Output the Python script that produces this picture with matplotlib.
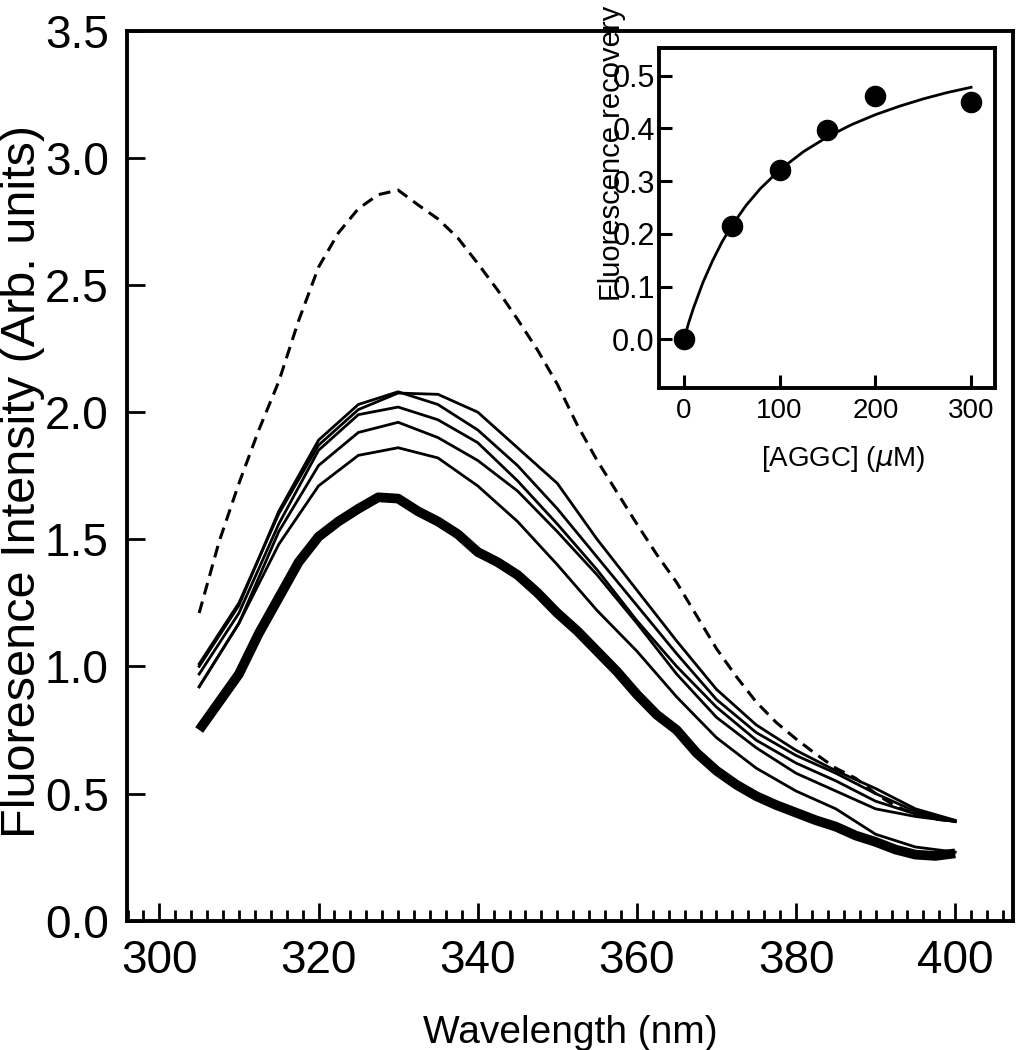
import matplotlib
matplotlib.use("Agg")
import matplotlib.pyplot as plt
from matplotlib.ticker import MultipleLocator, FormatStrFormatter

plt.rcParams['font.family'] = ['Liberation Sans', 'DejaVu Sans']

# main panel: emission spectra
wl_fine = [305, 307.5, 310, 312.5, 315, 317.5, 320, 322.5, 325, 327.5, 330, 332.5,
           335, 337.5, 340, 342.5, 345, 347.5, 350, 352.5, 355, 357.5, 360, 362.5,
           365, 367.5, 370, 372.5, 375, 377.5, 380, 382.5, 385, 387.5, 390, 392.5,
           395, 397.5, 400]
free_protein = [1.21, 1.49, 1.72, 1.93, 2.12, 2.36, 2.57, 2.705, 2.80, 2.855, 2.873, 2.815,
                2.76, 2.685, 2.585, 2.48, 2.365, 2.245, 2.11, 1.95, 1.81, 1.685, 1.56, 1.44,
                1.33, 1.20, 1.07, 0.96, 0.86, 0.78, 0.715, 0.655, 0.60, 0.56, 0.50, 0.45,
                0.42, 0.40, 0.39]
quenched = [0.75, 0.86, 0.97, 1.13, 1.27, 1.41, 1.51, 1.57, 1.62, 1.665, 1.66, 1.61,
            1.57, 1.52, 1.45, 1.41, 1.36, 1.29, 1.21, 1.14, 1.06, 0.98, 0.89, 0.81,
            0.75, 0.66, 0.59, 0.535, 0.49, 0.455, 0.425, 0.395, 0.37, 0.335, 0.31, 0.28,
            0.26, 0.255, 0.265]

wl = [305, 310, 315, 320, 325, 330, 335, 340, 345, 350, 355, 360, 365, 370, 375,
      380, 385, 390, 395, 400]
aggc_300 = [1.01, 1.25, 1.60, 1.87, 2.01, 2.075, 2.07, 2.00, 1.86, 1.72, 1.50, 1.30,
            1.10, 0.91, 0.77, 0.67, 0.59, 0.52, 0.44, 0.395]
aggc_200 = [1.00, 1.24, 1.61, 1.89, 2.03, 2.08, 2.03, 1.93, 1.79, 1.62, 1.43, 1.24,
            1.05, 0.87, 0.74, 0.65, 0.58, 0.50, 0.43, 0.39]
aggc_150 = [0.97, 1.21, 1.56, 1.85, 1.99, 2.02, 1.97, 1.88, 1.73, 1.56, 1.38, 1.18,
            1.00, 0.84, 0.71, 0.62, 0.55, 0.47, 0.42, 0.39]
aggc_100 = [0.92, 1.17, 1.53, 1.79, 1.92, 1.96, 1.90, 1.81, 1.69, 1.53, 1.36, 1.17,
            0.97, 0.80, 0.68, 0.58, 0.51, 0.44, 0.41, 0.39]
aggc_50 = [0.92, 1.17, 1.48, 1.71, 1.83, 1.86, 1.82, 1.71, 1.57, 1.40, 1.22, 1.06,
           0.88, 0.72, 0.60, 0.51, 0.44, 0.34, 0.29, 0.27]

# inset: recovery vs AGGC
aggc_conc = [0, 50, 100, 150, 200, 300]
recovery = [0.0, 0.215, 0.321, 0.397, 0.462, 0.450]
fit_conc = [0, 5, 10, 20, 30, 40, 50, 65, 80, 100, 125, 150, 175, 200, 225, 250, 275, 300]
fit_recovery = [0.0, 0.031, 0.059, 0.108, 0.149, 0.185, 0.215, 0.254, 0.286, 0.321,
                0.356, 0.384, 0.407, 0.426, 0.442, 0.456, 0.468, 0.478]

fig = plt.figure(figsize=(10.18, 10.5), dpi=100)
ax = fig.add_axes([0.1245, 0.1231, 0.8709, 0.8477])

ax.plot(wl_fine, free_protein, color='black', lw=2.2, linestyle=(0, (3.9, 2.4)))
for series in [aggc_300, aggc_200, aggc_150, aggc_100, aggc_50]:
    ax.plot(wl, series, color='black', lw=2.0)
ax.plot(wl_fine, quenched, color='black', lw=7, solid_capstyle='butt', solid_joinstyle='round')

ax.set_xlim(295.9, 407.3)
ax.set_ylim(0, 3.5)
ax.xaxis.set_major_locator(MultipleLocator(20))
ax.xaxis.set_minor_locator(MultipleLocator(2))
ax.yaxis.set_major_locator(MultipleLocator(0.5))
ax.yaxis.set_major_formatter(FormatStrFormatter('%.1f'))
ax.tick_params(axis='both', which='major', direction='in', length=13, width=2, labelsize=33)
ax.tick_params(axis='x', which='minor', direction='in', length=8, width=2)
ax.tick_params(axis='y', which='major', pad=13)
ax.tick_params(axis='x', which='major', pad=13)
for sp in ax.spines.values():
    sp.set_linewidth(2.8)

ax.set_xlabel('Wavelength (nm)', fontsize=28)
ax.xaxis.set_label_coords(0.5, -0.106)
ax.set_ylabel('Fluoresence Intensity (Arb. units)', fontsize=35)
ax.yaxis.set_label_coords(-0.092, 0.494)

# inset
axi = fig.add_axes([0.6473, 0.6302, 0.3301, 0.3238])
axi.plot(fit_conc, fit_recovery, color='black', lw=2.0)
axi.plot(aggc_conc, recovery, 'o', color='black', markersize=14.5)
axi.set_xlim(-26, 325)
axi.set_ylim(-0.093, 0.552)
axi.set_xticks([0, 100, 200, 300])
axi.yaxis.set_major_locator(MultipleLocator(0.1))
axi.yaxis.set_major_formatter(FormatStrFormatter('%.1f'))
axi.tick_params(axis='both', direction='in', length=9.5, width=2.2)
axi.tick_params(axis='y', pad=3, labelsize=22)
axi.tick_params(axis='x', pad=7, labelsize=20)
for sp in axi.spines.values():
    sp.set_linewidth(2.8)
axi.set_xlabel('[AGGC] ($\\mu$M)', fontsize=20)
axi.xaxis.set_label_coords(0.548, -0.165)
axi.set_ylabel('Fluorescence recovery', fontsize=21)
axi.yaxis.set_label_coords(-0.098, 0.69)

fig.savefig('out.png', dpi=100)
